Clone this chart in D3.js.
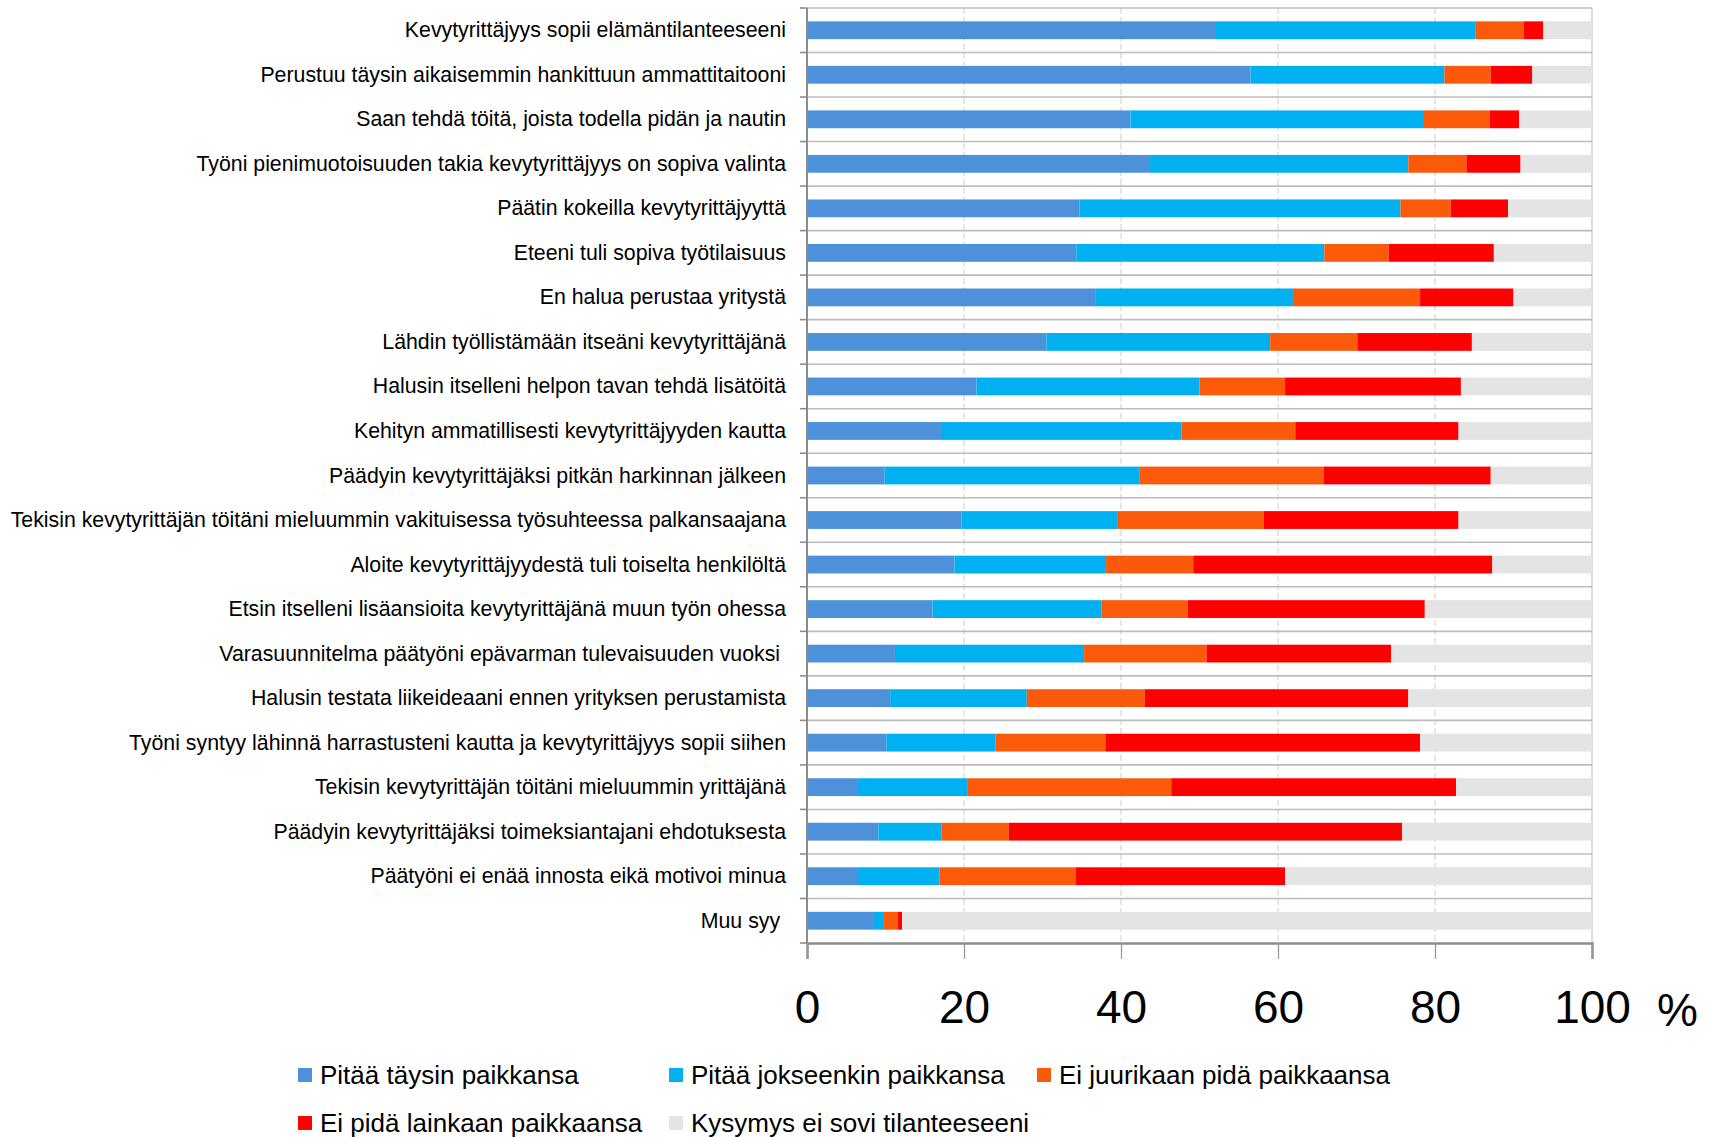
<!DOCTYPE html>
<html><head><meta charset="utf-8">
<script src="https://cdn.jsdelivr.net/npm/d3@7"></script>
<style>
html,body{margin:0;padding:0;background:#fff;}
svg{display:block;font-family:"Liberation Sans",Arial,sans-serif;}
</style></head>
<body>
<svg id="chart" width="1719" height="1137"></svg>
<script>
const categories = [
  "Kevytyrittäjyys sopii elämäntilanteeseeni",
  "Perustuu täysin aikaisemmin hankittuun ammattitaitooni",
  "Saan tehdä töitä, joista todella pidän ja nautin",
  "Työni pienimuotoisuuden takia kevytyrittäjyys on sopiva valinta",
  "Päätin kokeilla kevytyrittäjyyttä",
  "Eteeni tuli sopiva työtilaisuus",
  "En halua perustaa yritystä",
  "Lähdin työllistämään itseäni kevytyrittäjänä",
  "Halusin itselleni helpon tavan tehdä lisätöitä",
  "Kehityn ammatillisesti kevytyrittäjyyden kautta",
  "Päädyin kevytyrittäjäksi pitkän harkinnan jälkeen",
  "Tekisin kevytyrittäjän töitäni mieluummin vakituisessa työsuhteessa palkansaajana",
  "Aloite kevytyrittäjyydestä tuli toiselta henkilöltä",
  "Etsin itselleni lisäansioita kevytyrittäjänä muun työn ohessa",
  "Varasuunnitelma päätyöni epävarman tulevaisuuden vuoksi ",
  "Halusin testata liikeideaani ennen yrityksen perustamista",
  "Työni syntyy lähinnä harrastusteni kautta ja kevytyrittäjyys sopii siihen",
  "Tekisin kevytyrittäjän töitäni mieluummin yrittäjänä",
  "Päädyin kevytyrittäjäksi toimeksiantajani ehdotuksesta",
  "Päätyöni ei enää innosta eikä motivoi minua",
  "Muu syy "
];
const seriesNames = [
  "Pitää täysin paikkansa",
  "Pitää jokseenkin paikkansa",
  "Ei juurikaan pidä paikkaansa",
  "Ei pidä lainkaan paikkaansa",
  "Kysymys ei sovi tilanteeseeni"
];
const pitaaTaysin     = [52.1,56.5,41.2,43.7,34.7,34.3,36.8,30.5,21.6,17.2, 9.9,19.7,18.8,16.0,11.2,10.6,10.1, 6.5, 9.1, 6.5, 8.4];
const pitaaJokseenkin = [33.1,24.7,37.4,32.9,40.9,31.6,25.1,28.5,28.4,30.5,32.5,19.9,19.3,21.5,24.1,17.4,13.9,13.9, 8.0,10.4, 1.4];
const eiJuurikaan     = [ 6.1, 5.9, 8.4, 7.4, 6.4, 8.2,16.2,11.1,10.9,14.5,23.4,18.6,11.1,11.0,15.6,15.0,14.0,26.0, 8.6,17.3, 1.8];
const eiLainkaan      = [ 2.5, 5.3, 3.7, 6.9, 7.3,13.4,11.9,14.6,22.4,20.8,21.3,24.8,38.1,30.2,23.5,33.6,40.1,36.3,50.1,26.7, 0.5];
const eiSovi          = [ 6.2, 7.6, 9.3, 9.1,10.7,12.5,10.0,15.3,16.7,17.0,12.9,17.0,12.7,21.3,25.6,23.4,21.9,17.3,24.2,39.1,87.9];
const xTicks = [0,20,40,60,80,100];
const colors = ["#4d91da","#00b0f0","#fa5a0a","#ff0000","#e4e4e4"];

(function(){
const svg = d3.select("#chart");
const pLeft = 807, pRight = 1592, pTop = 8, pBottom = 943;

const keys = ["k0","k1","k2","k3","k4"];
const seriesVals = [pitaaTaysin, pitaaJokseenkin, eiJuurikaan, eiLainkaan, eiSovi];
const table = categories.map((c,i)=>{
  const o = {cat:c};
  keys.forEach((k,j)=>o[k]=seriesVals[j][i]);
  return o;
});
const stacked = d3.stack().keys(keys)(table);

const x = d3.scaleLinear().domain([0,100]).range([pLeft,pRight]);
const y = d3.scaleBand().domain(categories).range([pTop,pBottom]).paddingInner(0.6).paddingOuter(0.3);
const band = d3.scaleBand().domain(categories).range([pTop,pBottom]).padding(0);

// vertical gridlines
svg.append("g").selectAll("line").data(xTicks.slice(1,-1)).join("line")
  .attr("x1",d=>x(d)).attr("x2",d=>x(d)).attr("y1",pTop).attr("y2",pBottom)
  .attr("stroke","#d6d6d6").attr("stroke-width",1.2).attr("stroke-dasharray","6,3");
svg.append("line").attr("x1",x(100)).attr("x2",x(100)).attr("y1",pTop).attr("y2",pBottom)
  .attr("stroke","#d0d0d0").attr("stroke-width",1.5);

// horizontal category separators
const seps = categories.map(c=>band(c));
svg.append("g").selectAll("line").data(seps).join("line")
  .attr("x1",pLeft).attr("x2",pRight).attr("y1",d=>d).attr("y2",d=>d)
  .attr("stroke","#bcbcbc").attr("stroke-width",1.6);

// bars
svg.append("g").selectAll("g").data(stacked).join("g")
  .attr("fill",(d,i)=>colors[i])
  .selectAll("rect").data(d=>d).join("rect")
  .attr("x",d=>x(d[0]))
  .attr("width",d=>Math.max(0,Math.min(x(d[1]),pRight)-x(d[0])))
  .attr("y",d=>y(d.data.cat))
  .attr("height",y.bandwidth());

// y axis line and ticks
svg.append("line").attr("x1",pLeft).attr("x2",pLeft).attr("y1",pTop).attr("y2",pBottom+1)
  .attr("stroke","#8c8c8c").attr("stroke-width",2);
svg.append("g").selectAll("line").data(seps.concat([pBottom])).join("line")
  .attr("x1",pLeft-7).attr("x2",pLeft).attr("y1",d=>d).attr("y2",d=>d)
  .attr("stroke","#8c8c8c").attr("stroke-width",1.6);

// category labels
svg.append("g").selectAll("text").data(categories).join("text")
  .attr("x",786).attr("y",d=>band(d)+band.bandwidth()/2)
  .attr("text-anchor","end").attr("dominant-baseline","central")
  .style("white-space","pre")
  .attr("font-size",21.3).attr("fill","#000").text(d=>d);

// x axis
const xAxis = d3.axisBottom(x).tickValues(xTicks).tickSize(16).tickPadding(31).tickFormat(d3.format("d"));
const gx = svg.append("g").attr("transform",`translate(0,${pBottom})`).call(xAxis);
gx.select(".domain").attr("stroke","#8c8c8c").attr("stroke-width",2.5);
gx.selectAll(".tick line").attr("stroke","#999").attr("stroke-width",1.3);
gx.selectAll(".tick text").attr("font-size",46).attr("fill","#000")
  .attr("font-family","'Liberation Sans',Arial,sans-serif").attr("dy","0.71em");
svg.append("text").attr("x",1657).attr("y",1026).attr("font-size",46).attr("fill","#000").text("%");

// legend
const legendPos = [[298,1075],[669,1075],[1037,1075],[298,1123],[669,1123]];
const lg = svg.append("g").selectAll("g").data(seriesNames).join("g")
  .attr("transform",(d,i)=>`translate(${legendPos[i][0]},${legendPos[i][1]})`);
lg.append("rect").attr("x",0).attr("y",-7).attr("width",14).attr("height",14).attr("fill",(d,i)=>colors[i]);
lg.append("text").attr("x",22).attr("y",0).attr("dominant-baseline","central")
  .attr("font-size",26).attr("fill","#000").text(d=>d);
})();
</script>
</body></html>
